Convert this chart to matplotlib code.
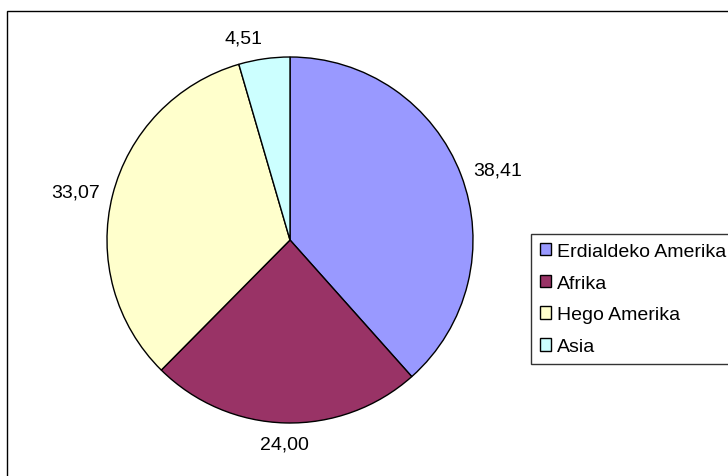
import numpy as np
import matplotlib
matplotlib.use("Agg")
import matplotlib.pyplot as plt
import matplotlib.patches as mpatches

############################################
# DATA
############################################
regions = ["Erdialdeko Amerika", "Afrika", "Hego Amerika", "Asia"]
shares = [38.41, 24.00, 33.07, 4.51]
value_labels = ["38,41", "24,00", "33,07", "4,51"]
colors = ["#9999FF", "#993366", "#FFFFCC", "#CCFFFF"]

W, H = 728, 477
plt.rcParams['font.family'] = ['Liberation Sans', 'DejaVu Sans']

fig = plt.figure(figsize=(W / 100, H / 100), dpi=100)

# outer chart frame (runs off the right and bottom of the picture)
frame = mpatches.Rectangle((7 / W, -0.1), 1.2, 1.1 - 12 / H, transform=fig.transFigure,
                           fill=False, edgecolor="black", linewidth=1.0)
fig.patches.append(frame)

# pie axes: centre (290, 241) px, radius 183 px
cx, cy, r = 290, 241, 183
ax = fig.add_axes([(cx - r) / W, (H - cy - r) / H, 2 * r / W, 2 * r / H])
wedges, texts = ax.pie(shares, colors=colors, startangle=90, counterclock=False,
                       labels=value_labels, labeldistance=1.07,
                       wedgeprops=dict(edgecolor="black", linewidth=1.0),
                       textprops=dict(fontsize=14))
ax.set_xlim(-1, 1); ax.set_ylim(-1, 1)

# excel-like label alignment
for w, t in zip(wedges, texts):
    ang = np.deg2rad((w.theta1 + w.theta2) / 2)
    c, s = np.cos(ang), np.sin(ang)
    if abs(c) < 0.05:
        t.set_ha("center")
        t.set_va("bottom" if s > 0 else "top")
    elif abs(c) < 0.3:
        t.set_ha("right" if c < 0 else "left")
        t.set_va("bottom" if s > 0 else "top")
    else:
        t.set_ha("left" if c > 0 else "right")
        t.set_va("center")
    t.set_clip_on(False)

handles = [mpatches.Patch(facecolor=col, edgecolor="black", linewidth=1.0) for col in colors]
leg = fig.legend(handles, regions, loc="upper left", bbox_to_anchor=(531 / W, 1 - 235 / H),
                 fontsize=14, frameon=True, fancybox=False, handlelength=0.6, handleheight=0.6,
                 handletextpad=0.3, labelspacing=0.76, borderpad=0.45, borderaxespad=0)
leg.get_frame().set_edgecolor("black")
leg.get_frame().set_linewidth(1.0)

fig.savefig("out.png", dpi=100)
